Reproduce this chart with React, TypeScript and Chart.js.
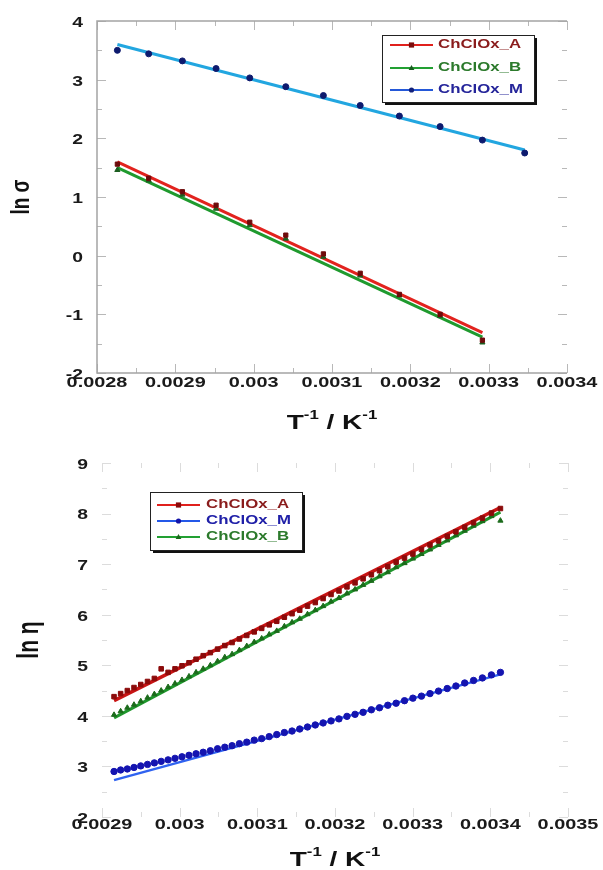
import React, { useEffect, useRef } from "react";
import { Chart, registerables } from "chart.js";

Chart.register(...registerables);

// ---------- Top chart: ln(sigma) vs 1/T ----------
const TOP_X = [0.002826, 0.002866, 0.002909, 0.002952, 0.002995, 0.003041, 0.003089, 0.003136, 0.003186, 0.003238, 0.003292, 0.003346];
const TOP_A = [1.56, 1.32, 1.09, 0.86, 0.57, 0.35, 0.03, -0.30, -0.66, -1.00, -1.44];
const TOP_B = [1.46, 1.28, 1.04, 0.80, 0.52, 0.29, -0.02, -0.34, -0.68, -1.03, -1.48];
const TOP_M = [3.50, 3.44, 3.32, 3.19, 3.03, 2.88, 2.73, 2.56, 2.38, 2.20, 1.97, 1.75];
const TOP_FIT_A_X = [0.002826, 0.003292];
const TOP_FIT_A = [1.60, -1.31];
const TOP_FIT_B_X = [0.002826, 0.003292];
const TOP_FIT_B = [1.50, -1.39];
const TOP_FIT_M_X = [0.002826, 0.003346];
const TOP_FIT_M = [3.60, 1.80];
const TOP_XTICKS = [0.0028, 0.0029, 0.003, 0.0031, 0.0032, 0.0033, 0.0034];
const TOP_XLABELS = ["0.0028", "0.0029", "0.003", "0.0031", "0.0032", "0.0033", "0.0034"];
const TOP_YTICKS = [-2, -1, 0, 1, 2, 3, 4];
const TOP_YLABELS = ["-2", "-1", "0", "1", "2", "3", "4"];

// ---------- Bottom chart: ln(eta) vs 1/T ----------
const BOT_X = [
  0.0029155, 0.0029240, 0.0029326, 0.0029412, 0.0029499, 0.0029586, 0.0029674, 0.0029762, 0.0029851, 0.0029940,
  0.0030030, 0.0030120, 0.0030211, 0.0030303, 0.0030395, 0.0030488, 0.0030581, 0.0030675, 0.0030769, 0.0030864,
  0.0030960, 0.0031056, 0.0031153, 0.0031250, 0.0031348, 0.0031447, 0.0031546, 0.0031646, 0.0031746, 0.0031847,
  0.0031949, 0.0032051, 0.0032154, 0.0032258, 0.0032362, 0.0032468, 0.0032573, 0.0032680, 0.0032787, 0.0032895,
  0.0033003, 0.0033113, 0.0033223, 0.0033333, 0.0033445, 0.0033557, 0.0033670, 0.0033784, 0.0033898, 0.0034014,
  0.0034130,
];
const BOT_A = [
  4.38, 4.44, 4.50, 4.56, 4.62, 4.68, 4.74, 4.93, 4.86, 4.93,
  4.99, 5.05, 5.12, 5.19, 5.25, 5.32, 5.39, 5.45, 5.52, 5.59,
  5.66, 5.73, 5.80, 5.87, 5.95, 6.02, 6.09, 6.17, 6.24, 6.32,
  6.40, 6.47, 6.55, 6.63, 6.71, 6.79, 6.87, 6.95, 7.04, 7.12,
  7.20, 7.29, 7.38, 7.46, 7.55, 7.64, 7.73, 7.82, 7.91, 8.01,
  8.10,
];
const BOT_B = [
  4.02, 4.09, 4.16, 4.22, 4.29, 4.36, 4.43, 4.50, 4.57, 4.64,
  4.71, 4.78, 4.86, 4.93, 5.00, 5.08, 5.16, 5.22, 5.30, 5.38,
  5.46, 5.53, 5.61, 5.68, 5.77, 5.85, 5.92, 6.01, 6.09, 6.17,
  6.26, 6.33, 6.42, 6.50, 6.59, 6.67, 6.76, 6.84, 6.94, 7.02,
  7.11, 7.20, 7.29, 7.38, 7.47, 7.57, 7.66, 7.76, 7.85, 7.95,
  7.86,
];
const BOT_M = [
  2.90, 2.93, 2.95, 2.98, 3.01, 3.04, 3.07, 3.10, 3.13, 3.16,
  3.19, 3.22, 3.25, 3.28, 3.31, 3.35, 3.38, 3.41, 3.45, 3.48,
  3.52, 3.55, 3.59, 3.63, 3.67, 3.70, 3.74, 3.78, 3.82, 3.86,
  3.90, 3.94, 3.99, 4.03, 4.07, 4.12, 4.16, 4.21, 4.25, 4.30,
  4.35, 4.39, 4.44, 4.49, 4.54, 4.59, 4.65, 4.70, 4.75, 4.81,
  4.86,
];
const BOT_FIT_X = [0.0029155, 0.0034130];
const BOT_FIT_A = [4.30, 8.12];
const BOT_FIT_B = [3.96, 8.03];
const BOT_FIT_M = [2.73, 4.82];
const BOT_XTICKS = [0.0029, 0.003, 0.0031, 0.0032, 0.0033, 0.0034, 0.0035];
const BOT_XLABELS = ["0.0029", "0.003", "0.0031", "0.0032", "0.0033", "0.0034", "0.0035"];
const BOT_YTICKS = [2, 3, 4, 5, 6, 7, 8, 9];
const BOT_YLABELS = ["2", "3", "4", "5", "6", "7", "8", "9"];

const SERIES_A = "ChClOx_A";
const SERIES_B = "ChClOx_B";
const SERIES_M = "ChClOx_M";

const FONT = '"Liberation Sans", Arial, sans-serif';

const zip = (xs: number[], ys: number[]) => ys.map((y, i) => ({ x: xs[i], y }));

function txt(ctx: CanvasRenderingContext2D, s: string, x: number, y: number, size: number, color: string, align: CanvasTextAlign, sx = 1.4) {
  ctx.save();
  ctx.font = `bold ${size}px ${FONT}`;
  ctx.fillStyle = color;
  ctx.textAlign = align;
  ctx.textBaseline = "middle";
  ctx.translate(x, y);
  ctx.scale(sx, 1);
  ctx.fillText(s, 0, 0);
  ctx.restore();
}

function marker(ctx: CanvasRenderingContext2D, style: string, x: number, y: number, r: number, color: string) {
  ctx.save();
  ctx.fillStyle = color;
  ctx.beginPath();
  if (style === "rect") {
    ctx.rect(x - r, y - r, 2 * r, 2 * r);
  } else if (style === "triangle") {
    ctx.moveTo(x, y - r * 1.2);
    ctx.lineTo(x + r * 1.1, y + r * 0.8);
    ctx.lineTo(x - r * 1.1, y + r * 0.8);
    ctx.closePath();
  } else {
    ctx.arc(x, y, r, 0, Math.PI * 2);
  }
  ctx.fill();
  ctx.restore();
}

function xTitle(ctx: CanvasRenderingContext2D, cx: number, cy: number) {
  const parts: [string, number, number][] = [
    ["T", 20, 0],
    ["-1", 12, -7],
    [" / ", 20, 0],
    ["K", 20, 0],
    ["-1", 12, -7],
  ];
  const sx = 1.4;
  let total = 0;
  ctx.save();
  for (const [s, sz] of parts) {
    ctx.font = `bold ${sz}px ${FONT}`;
    total += ctx.measureText(s).width * sx;
  }
  let x = cx - total / 2;
  for (const [s, sz, dy] of parts) {
    ctx.font = `bold ${sz}px ${FONT}`;
    const w = ctx.measureText(s).width * sx;
    txt(ctx, s, x, cy + dy, sz, "#111", "left", sx);
    x += w;
  }
  ctx.restore();
}

function yTitle(ctx: CanvasRenderingContext2D, s: string, cx: number, cy: number, size: number) {
  ctx.save();
  ctx.translate(cx, cy);
  ctx.rotate(-Math.PI / 2);
  ctx.scale(1, 1.4);
  ctx.font = `bold ${size}px ${FONT}`;
  ctx.fillStyle = "#111";
  ctx.textAlign = "center";
  ctx.textBaseline = "middle";
  ctx.fillText(s, 0, 0);
  ctx.restore();
}

type LegendItem = { label: string; line: string; marker: string; style: string; text: string };

type Spec = {
  xticks: number[];
  xlabels: string[];
  yticks: number[];
  ylabels: string[];
  frame: boolean;
  tickColor: string;
  yLabelRight: number;
  xLabelY: number;
  titleY: number;
  yTitleText: string;
  yTitleX: number;
  yTitleSize: number;
  legend: { x: number; y: number; w: number; h: number; rowY: number[]; lineX0: number; lineX1: number; textX: number; size: number };
  items: LegendItem[];
};

function makeDecor(spec: Spec) {
  return {
    id: "decor",
    beforeDatasetsDraw(chart: any) {
      const ctx: CanvasRenderingContext2D = chart.ctx;
      const a = chart.chartArea;
      const xs = chart.scales.x;
      const ys = chart.scales.y;
      ctx.save();
      ctx.strokeStyle = spec.tickColor;
      ctx.lineWidth = 1;
      for (const v of spec.yticks) {
        const py = Math.round(ys.getPixelForValue(v)) + 0.5;
        ctx.beginPath();
        ctx.moveTo(a.left, py);
        ctx.lineTo(a.left + 9, py);
        ctx.moveTo(a.right, py);
        ctx.lineTo(a.right - 9, py);
        ctx.stroke();
      }
      for (let i = 0; i < spec.yticks.length - 1; i++) {
        const py = Math.round(ys.getPixelForValue((spec.yticks[i] + spec.yticks[i + 1]) / 2)) + 0.5;
        ctx.beginPath();
        ctx.moveTo(a.left, py);
        ctx.lineTo(a.left + 5, py);
        ctx.moveTo(a.right, py);
        ctx.lineTo(a.right - 5, py);
        ctx.stroke();
      }
      for (const v of spec.xticks) {
        const px = Math.round(xs.getPixelForValue(v)) + 0.5;
        ctx.beginPath();
        ctx.moveTo(px, a.bottom);
        ctx.lineTo(px, a.bottom - 9);
        ctx.moveTo(px, a.top);
        ctx.lineTo(px, a.top + 9);
        ctx.stroke();
      }
      for (let i = 0; i < spec.xticks.length - 1; i++) {
        const px = Math.round(xs.getPixelForValue((spec.xticks[i] + spec.xticks[i + 1]) / 2)) + 0.5;
        ctx.beginPath();
        ctx.moveTo(px, a.bottom);
        ctx.lineTo(px, a.bottom - 5);
        ctx.moveTo(px, a.top);
        ctx.lineTo(px, a.top + 5);
        ctx.stroke();
      }
      if (spec.frame) {
        ctx.strokeStyle = "#a4a4a4";
        ctx.lineWidth = 1.5;
        ctx.beginPath();
        ctx.moveTo(a.right, a.top);
        ctx.lineTo(a.left, a.top);
        ctx.lineTo(a.left, a.bottom);
        ctx.lineTo(a.right, a.bottom);
        ctx.stroke();
      }
      ctx.restore();
    },
    afterDraw(chart: any) {
      const ctx: CanvasRenderingContext2D = chart.ctx;
      const a = chart.chartArea;
      const xs = chart.scales.x;
      const ys = chart.scales.y;
      spec.yticks.forEach((v, i) => {
        txt(ctx, spec.ylabels[i], spec.yLabelRight, ys.getPixelForValue(v) + 2, 14, "#1a1a1a", "right", 1.38);
      });
      spec.xticks.forEach((v, i) => {
        txt(ctx, spec.xlabels[i], xs.getPixelForValue(v), spec.xLabelY, 14, "#1a1a1a", "center", 1.42);
      });
      xTitle(ctx, (a.left + a.right) / 2, spec.titleY);
      yTitle(ctx, spec.yTitleText, spec.yTitleX, (a.top + a.bottom) / 2, spec.yTitleSize);
      const L = spec.legend;
      ctx.save();
      ctx.fillStyle = "#111";
      ctx.fillRect(L.x + 3, L.y + 3, L.w, L.h);
      ctx.fillStyle = "#fff";
      ctx.fillRect(L.x, L.y, L.w, L.h);
      ctx.strokeStyle = "#222";
      ctx.lineWidth = 1;
      ctx.strokeRect(L.x + 0.5, L.y + 0.5, L.w, L.h);
      spec.items.forEach((it, i) => {
        const y = L.rowY[i];
        ctx.strokeStyle = it.line;
        ctx.lineWidth = 2;
        ctx.beginPath();
        ctx.moveTo(L.lineX0, y);
        ctx.lineTo(L.lineX1, y);
        ctx.stroke();
        marker(ctx, it.style, (L.lineX0 + L.lineX1) / 2, y, 2.6, it.marker);
        txt(ctx, it.label, L.textX, y, L.size, it.text, "left", 1.4);
      });
      ctx.restore();
    },
  };
}

function buildChart(canvas: HTMLCanvasElement, datasets: any[], xr: [number, number], yr: [number, number], padding: any, spec: Spec) {
  return new Chart(canvas, {
    type: "scatter",
    data: { datasets },
    options: {
      animation: false,
      responsive: false,
      maintainAspectRatio: false,
      layout: { padding },
      plugins: { legend: { display: false }, tooltip: { enabled: false }, title: { display: false } },
      scales: {
        x: { type: "linear", min: xr[0], max: xr[1], display: false },
        y: { type: "linear", min: yr[0], max: yr[1], display: false },
      },
      elements: { line: { tension: 0 } },
    },
    plugins: [makeDecor(spec)],
  });
}

function lineDs(label: string, xs: number[], ys: number[], color: string, width: number) {
  return {
    label,
    data: zip(xs, ys),
    showLine: true,
    borderColor: color,
    backgroundColor: color,
    borderWidth: width,
    pointRadius: 0,
    order: 2,
  };
}

function pointDs(label: string, xs: number[], ys: number[], color: string, style: string, r: number) {
  return {
    label,
    data: zip(xs, ys),
    showLine: false,
    pointStyle: style,
    pointRadius: r,
    pointBackgroundColor: color,
    pointBorderColor: color,
    pointBorderWidth: 1,
    order: 1,
  };
}

export default function App() {
  const topRef = useRef<HTMLCanvasElement>(null);
  const botRef = useRef<HTMLCanvasElement>(null);

  useEffect(() => {
    const topSpec: Spec = {
      xticks: TOP_XTICKS,
      xlabels: TOP_XLABELS,
      yticks: TOP_YTICKS,
      ylabels: TOP_YLABELS,
      frame: true,
      tickColor: "#b8b8b8",
      yLabelRight: 83,
      xLabelY: 383,
      titleY: 423,
      yTitleText: "ln σ",
      yTitleX: 22,
      yTitleSize: 19,
      legend: { x: 382, y: 35, w: 152, h: 67, rowY: [45, 68, 90], lineX0: 390, lineX1: 433, textX: 438, size: 12 },
      items: [
        { label: SERIES_A, line: "#e0201c", marker: "#7a0c0c", style: "rect", text: "#8a1c1c" },
        { label: SERIES_B, line: "#22a032", marker: "#1b5e20", style: "triangle", text: "#2c7a2c" },
        { label: SERIES_M, line: "#2458d8", marker: "#12207a", style: "circle", text: "#25259a" },
      ],
    };
    const top = buildChart(
      topRef.current!,
      [
        pointDs(SERIES_M, TOP_X, TOP_M, "#0d1a6e", "circle", 3),
        pointDs(SERIES_A, TOP_X, TOP_A, "#6e0b0b", "rect", 3),
        pointDs(SERIES_B, TOP_X, TOP_B, "#1b5e20", "triangle", 3),
        lineDs(SERIES_M + " fit", TOP_FIT_M_X, TOP_FIT_M, "#22a6e0", 3),
        lineDs(SERIES_A + " fit", TOP_FIT_A_X, TOP_FIT_A, "#e2231e", 3),
        lineDs(SERIES_B + " fit", TOP_FIT_B_X, TOP_FIT_B, "#1f9a2e", 3),
      ],
      [0.0028, 0.0034],
      [-2, 4],
      { left: 97, right: 36, top: 21, bottom: 62 },
      topSpec
    );

    const botSpec: Spec = {
      xticks: BOT_XTICKS,
      xlabels: BOT_XLABELS,
      yticks: BOT_YTICKS,
      ylabels: BOT_YLABELS,
      frame: false,
      tickColor: "#dcdcdc",
      yLabelRight: 88,
      xLabelY: 390,
      titleY: 425,
      yTitleText: "ln η",
      yTitleX: 30,
      yTitleSize: 21,
      legend: { x: 150, y: 57, w: 152, h: 58, rowY: [70, 86, 102], lineX0: 157, lineX1: 200, textX: 206, size: 12 },
      items: [
        { label: SERIES_A, line: "#e0201c", marker: "#8b0a0a", style: "rect", text: "#8a1c1c" },
        { label: SERIES_M, line: "#2458e8", marker: "#1414a8", style: "circle", text: "#2020a8" },
        { label: SERIES_B, line: "#22a032", marker: "#1b6b1b", style: "triangle", text: "#2c7a2c" },
      ],
    };
    const bot = buildChart(
      botRef.current!,
      [
        pointDs(SERIES_A, BOT_X, BOT_A, "#8b0a0a", "rect", 3.2),
        pointDs(SERIES_B, BOT_X, BOT_B, "#1b6b1b", "triangle", 3),
        pointDs(SERIES_M, BOT_X, BOT_M, "#1414b0", "circle", 3.2),
        lineDs(SERIES_A + " fit", BOT_FIT_X, BOT_FIT_A, "#c81414", 3.5),
        lineDs(SERIES_B + " fit", BOT_FIT_X, BOT_FIT_B, "#1f962c", 3),
        lineDs(SERIES_M + " fit", BOT_FIT_X, BOT_FIT_M, "#2f62f0", 2.5),
      ],
      [0.0029, 0.0035],
      [2, 9],
      { left: 102, right: 35, top: 28, bottom: 53 },
      botSpec
    );

    return () => {
      top.destroy();
      bot.destroy();
    };
  }, []);

  return (
    <div style={{ position: "absolute", left: 0, top: 0, width: 603, height: 870, background: "#fff" }}>
      <canvas ref={topRef} width={603} height={435} style={{ display: "block", width: 603, height: 435 }} />
      <canvas ref={botRef} width={603} height={435} style={{ display: "block", width: 603, height: 435 }} />
    </div>
  );
}
